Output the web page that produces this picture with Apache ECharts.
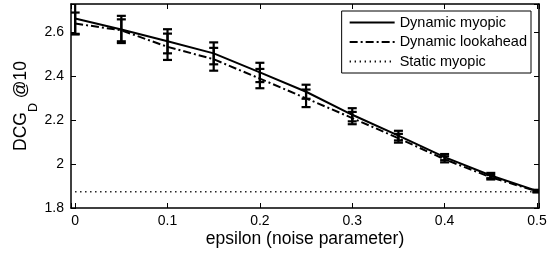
<!DOCTYPE html>
<html>
<head>
<meta charset="utf-8">
<script src="https://cdn.jsdelivr.net/npm/echarts@6/dist/echarts.min.js"></script>
<style>
  html, body { margin: 0; padding: 0; background: #fff; }
  #chart { width: 557px; height: 255px; }
</style>
</head>
<body>
<div id="chart"></div>
<script>
// noise parameter values
const eps = [0, 0.05, 0.1, 0.15, 0.2, 0.25, 0.3, 0.35, 0.4, 0.45, 0.5];
// DCG_D@10 means and error half-widths
const myopic = [2.664, 2.614, 2.560, 2.505, 2.418, 2.330, 2.225, 2.130, 2.032, 1.948, 1.878];
const myopicErr = [0.070, 0.062, 0.055, 0.050, 0.044, 0.032, 0.030, 0.022, 0.014, 0.012, 0.005];
const lookahead = [2.641, 2.610, 2.535, 2.478, 2.390, 2.300, 2.210, 2.118, 2.022, 1.940, 1.876];
const lookaheadErr = [0.050, 0.050, 0.060, 0.052, 0.044, 0.040, 0.028, 0.020, 0.014, 0.010, 0.005];
const staticMyopic = [1.874, 1.874, 1.874, 1.874, 1.874, 1.874, 1.874, 1.874, 1.874, 1.874, 1.874];

const FONT = "'Liberation Sans', Arial, Helvetica, sans-serif";

function pairs(ys) {
  return eps.map((x, i) => [x, ys[i]]);
}
function errData(ys, errs) {
  return eps.map((x, i) => [x, ys[i] - errs[i], ys[i] + errs[i]]);
}

// vertical bar with caps, like matlab errorbar
function renderErr(params, api) {
  const x = api.value(0);
  const lo = api.coord([x, api.value(1)]);
  const hi = api.coord([x, api.value(2)]);
  const w = 4.5;
  const style = { stroke: '#000', lineWidth: 2.2 };
  return {
    type: 'group',
    children: [
      { type: 'line', shape: { x1: lo[0], y1: lo[1], x2: hi[0], y2: hi[1] }, style: style },
      { type: 'line', shape: { x1: lo[0] - w, y1: lo[1], x2: lo[0] + w, y2: lo[1] }, style: style },
      { type: 'line', shape: { x1: hi[0] - w, y1: hi[1], x2: hi[0] + w, y2: hi[1] }, style: style }
    ]
  };
}

function fmt(v) {
  const r = Math.round(v * 10) / 10;
  if (Math.abs(v - r) > 1e-6) return '';
  return String(+r.toFixed(1));
}

const axisLine = { show: true, onZero: false, lineStyle: { color: '#000', width: 1.5 } };
const tick = { show: true, inside: true, length: 5, lineStyle: { color: '#000', width: 1 } };

const chart = echarts.init(document.getElementById('chart'));
chart.setOption({
  animation: false,
  backgroundColor: '#fff',
  grid: { left: 71, right: 18, top: 4, bottom: 47, outerBoundsMode: 'none', containLabel: false },
  legend: {
    orient: 'vertical',
    right: 26,
    top: 11,
    backgroundColor: '#fff',
    borderColor: '#000',
    borderWidth: 1,
    padding: [4, 4, 4, 7],
    itemGap: 4.5,
    itemWidth: 45,
    itemHeight: 14,
    itemStyle: { color: 'rgba(0,0,0,0)', borderWidth: 0 },
    textStyle: { fontFamily: FONT, fontSize: 14.5, color: '#000' },
    data: ['Dynamic myopic', 'Dynamic lookahead', 'Static myopic']
  },
  xAxis: [
    {
      type: 'value',
      min: -0.0045,
      max: 0.5022,
      splitNumber: 5,
      axisLine: axisLine,
      axisTick: tick,
      splitLine: { show: false },
      axisLabel: { color: '#000', fontFamily: FONT, fontSize: 14, margin: 6, formatter: fmt },
      name: 'epsilon (noise parameter)',
      nameLocation: 'middle',
      nameGap: 22,
      nameMoveOverlap: false,
      nameTextStyle: { color: '#000', fontFamily: FONT, fontSize: 17.5 }
    },
    {
      type: 'value',
      position: 'top',
      min: -0.0045,
      max: 0.5022,
      splitNumber: 5,
      axisLine: axisLine,
      axisTick: tick,
      splitLine: { show: false },
      axisLabel: { show: false }
    }
  ],
  yAxis: [
    {
      type: 'value',
      min: 1.8,
      max: 2.73,
      interval: 0.2,
      axisLine: axisLine,
      axisTick: tick,
      splitLine: { show: false },
      axisLabel: { color: '#000', fontFamily: FONT, fontSize: 14, margin: 7, formatter: fmt },
      name: '{a|DCG}{s|D}{a| @10}',
      nameLocation: 'middle',
      nameGap: 31,
      nameMoveOverlap: false,
      nameTextStyle: {
        rich: {
          a: { color: '#000', fontFamily: FONT, fontSize: 17.5, lineHeight: 38, verticalAlign: 'middle' },
          s: { color: '#000', fontFamily: FONT, fontSize: 12.5, lineHeight: 38, verticalAlign: 'bottom' }
        }
      }
    },
    {
      type: 'value',
      position: 'right',
      min: 1.8,
      max: 2.73,
      interval: 0.2,
      axisLine: axisLine,
      axisTick: tick,
      splitLine: { show: false },
      axisLabel: { show: false }
    }
  ],
  series: [
    {
      name: 'Static myopic',
      type: 'line',
      data: pairs(staticMyopic),
      symbol: 'none',
      lineStyle: { color: '#000', width: 1.3, type: [1.3, 3.7] },
      itemStyle: { color: '#000' }
    },
    {
      name: 'Dynamic lookahead',
      type: 'line',
      data: pairs(lookahead),
      symbol: 'none',
      lineStyle: { color: '#000', width: 2, type: [8, 3, 2, 3] },
      itemStyle: { color: '#000' }
    },
    {
      name: 'Dynamic myopic',
      type: 'line',
      data: pairs(myopic),
      symbol: 'none',
      lineStyle: { color: '#000', width: 2 },
      itemStyle: { color: '#000' }
    },
    {
      name: 'lookahead err',
      type: 'custom',
      renderItem: renderErr,
      encode: { x: 0, y: [1, 2] },
      data: errData(lookahead, lookaheadErr),
      clip: true,
      z: 3
    },
    {
      name: 'myopic err',
      type: 'custom',
      renderItem: renderErr,
      encode: { x: 0, y: [1, 2] },
      data: errData(myopic, myopicErr),
      clip: true,
      z: 3
    }
  ]
});
</script>
</body>
</html>
